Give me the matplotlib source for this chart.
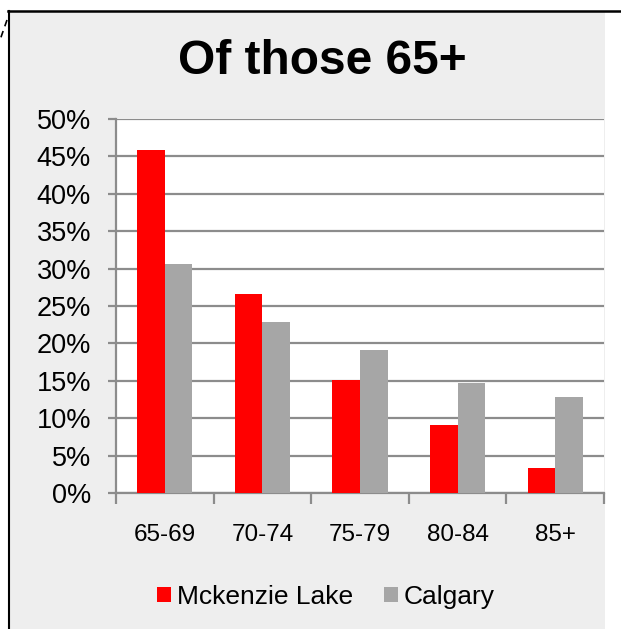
import numpy as np
import matplotlib
matplotlib.use("Agg")
import matplotlib.pyplot as plt
from matplotlib.patches import Rectangle, Patch
from matplotlib.lines import Line2D

plt.rcParams['font.family'] = ['Liberation Sans', 'DejaVu Sans']

# Data
categories = ["65-69", "70-74", "75-79", "80-84", "85+"]
mckenzie = [45.8, 26.6, 15.1, 9.1, 3.3]
calgary = [30.6, 22.9, 19.1, 14.7, 12.8]
series_names = ["Mckenzie Lake", "Calgary"]
title = "Of those 65+"

W, H = 621, 629
fig = plt.figure(figsize=(W / 100, H / 100), dpi=100)
fig.patch.set_facecolor("white")


def fx(px):
    return px / W


def fy(py):
    return 1 - py / H


# Light gray panel with black frame on top and left
fig.patches.append(Rectangle((fx(10), 0), fx(605) - fx(10), fy(12),
                             transform=fig.transFigure, facecolor="#EEEEEE",
                             edgecolor="none", zorder=-5))
fig.lines.append(Line2D([fx(8), 1], [fy(11), fy(11)], transform=fig.transFigure,
                        color="black", lw=1.8))
fig.lines.append(Line2D([fx(9), fx(9)], [fy(11), 0], transform=fig.transFigure,
                        color="black", lw=1.5))
fig.lines.append(Line2D([fx(7), fx(0)], [fy(20), fy(40)], transform=fig.transFigure,
                        color="black", lw=1.2, ls=(0, (4, 3))))

ax = fig.add_axes([fx(116), fy(493), fx(604) - fx(116), fy(119) - fy(493)])
ax.set_zorder(2)
ax.set_facecolor("white")

x = np.arange(len(categories))
bw = 0.282
grid_c = "#8C8C8C"
ax.bar(x - bw / 2, mckenzie, bw, color="#FF0000", zorder=3)
ax.bar(x + bw / 2, calgary, bw, color="#A6A6A6", zorder=3)

ax.set_xlim(-0.5, len(categories) - 0.5)
ax.set_ylim(0, 50)
ax.set_yticks(np.arange(0, 51, 5))
ax.set_yticklabels(["%d%%" % v for v in range(0, 51, 5)], fontsize=19.5)
ax.yaxis.grid(True, color=grid_c, lw=1.6, zorder=1)
ax.set_axisbelow(True)

# category labels centered, ticks at boundaries
ax.set_xticks(np.arange(-0.5, len(categories), 1.0))
ax.set_xticklabels([])
ax.set_xticks(x, minor=True)
ax.set_xticklabels(categories, minor=True, fontsize=17.5)
ax.tick_params(axis="x", which="minor", length=0, pad=22)
ax.tick_params(axis="x", which="major", length=8, width=1.6, color=grid_c, direction="out")
ax.tick_params(axis="y", length=6, width=1.6, color=grid_c, direction="out", pad=12)

for s in ["top", "right"]:
    ax.spines[s].set_visible(False)
for s in ["left", "bottom"]:
    ax.spines[s].set_color(grid_c)
    ax.spines[s].set_linewidth(1.6)

fig.text(fx(322), fy(62), title, fontsize=34.5, fontweight="bold",
         ha="center", va="center")

handles = [Patch(facecolor="#FF0000", edgecolor="none"),
           Patch(facecolor="#A6A6A6", edgecolor="none")]
fig.legend(handles, series_names, loc="center", bbox_to_anchor=(fx(326), fy(597)),
           ncol=2, frameon=False, fontsize=19, handlelength=0.53, handleheight=0.53,
           handletextpad=0.23, columnspacing=1.17)

fig.savefig("out.png", dpi=100)
